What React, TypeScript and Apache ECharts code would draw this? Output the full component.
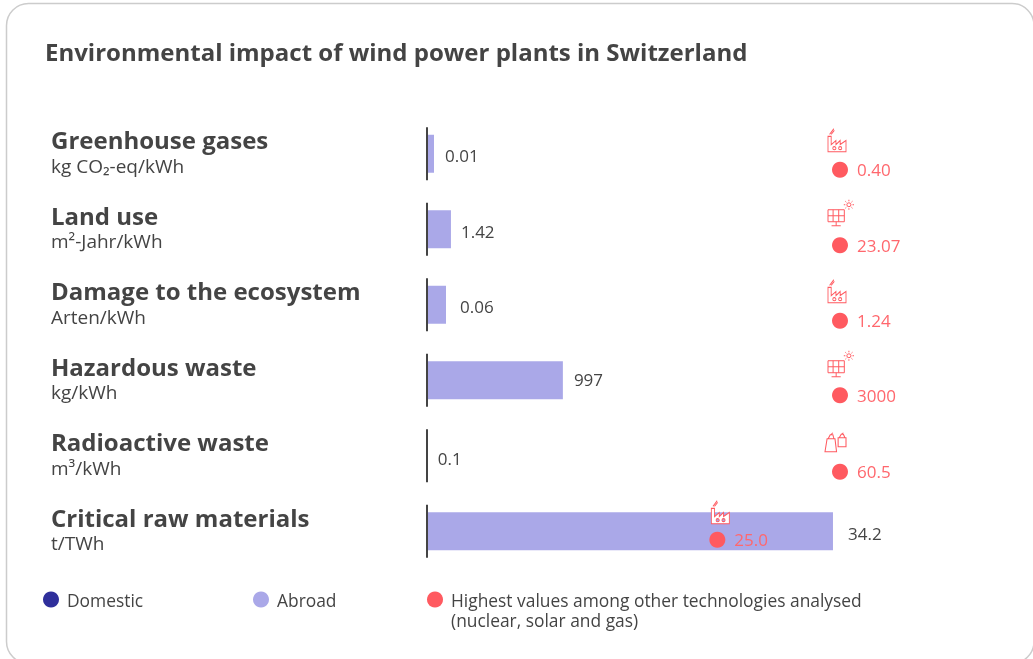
import React, { useEffect, useRef } from "react";
import * as echarts from "echarts";

const categories = ["Greenhouse gases", "Land use", "Damage to the ecosystem", "Hazardous waste", "Radioactive waste", "Critical raw materials"];
const units = ["kg CO₂-eq/kWh", "m²-Jahr/kWh", "Arten/kWh", "kg/kWh", "m³/kWh", "t/TWh"];
const abroadLabels = ["0.01", "1.42", "0.06", "997", "0.1", "34.2"];
const highestLabels = ["0.40", "23.07", "1.24", "3000", "60.5", "25.0"];
// lengths in % of the row's full scale
const abroadShare = [1.7, 5.8, 4.6, 32.9, 0.2, 98.3];
const highestShare = [100, 100, 100, 100, 100, 70.3];
const highestIcons = ["factory", "solar", "factory", "solar", "gas", "factory"];
const legendNames = ["Domestic", "Abroad", "Highest values among other technologies analysed"];

const TEXT = "#444444";
const RED = "#ff5a60";
const FONT = "'Open Sans', sans-serif";

const ICONS: Record<string, string> = {
  factory: "path://M0.5 23V8H3.5V16L8 12V16L12 12V16L17.5 12V23ZM2 6L6 0.5M3.5 6L6.5 2M5 19.5a1.5 1.5 0 1 0 3 0a1.5 1.5 0 1 0 -3 0M10.5 19.5a1.5 1.5 0 1 0 3 0a1.5 1.5 0 1 0 -3 0",
  solar: "path://M0.5 10H16.5V22H0.5ZM5.5 10V22M11 10V22M0.5 16H16.5M8.5 22V26M4 26H13M19 5a2 2 0 1 0 4 0a2 2 0 1 0 -4 0M21 0V1.5M21 8.5V10M16 5H17.5M24.5 5H26M17.5 1.5L18.5 2.5M24.5 1.5L23.5 2.5M17.5 8.5L18.5 7.5M24.5 8.5L23.5 7.5",
  gas: "path://M0.5 19L2.5 6H10L11.5 19ZM3.5 6L5.5 2H8L9 6M6 2L8 0M13 14V5H20.5V14ZM14 5L16 1.5H18L19.5 5M16 1.5L18 0",
};
const ICON_SIZE: Record<string, number[]> = { factory: [18, 23], solar: [26, 26], gas: [21, 19] };
const ICON_OFFSET: Record<string, number[]> = { factory: [-3, -13.5], solar: [1, -16.5], gas: [-4.5, -13.5] };

// small per-row shifts of the labels and dots
const labelGap = [11, 10, 14, 11, 10, 15];
const labelDy = [2, 2, 2, -1, 3, 2];
const dotDy = [16, 16, 16, 15, 16, 8.5];

export default function App() {
  const ref = useRef<HTMLDivElement>(null);
  useEffect(() => {
    document.body.style.margin = "0";
    const chart = echarts.init(ref.current!, null, { renderer: "svg" });
    chart.setOption({
      animation: false,
      textStyle: { fontFamily: FONT },
      title: {
        text: "Environmental impact of wind power plants in Switzerland",
        left: 45,
        top: 39,
        padding: 0,
        textStyle: { fontFamily: FONT, fontSize: 24, fontWeight: 700, color: TEXT },
      },
      grid: { left: 427, top: 116, width: 413, height: 453 },
      xAxis: { type: "value", min: 0, max: 100, show: false },
      yAxis: {
        type: "category",
        inverse: true,
        data: categories,
        axisLine: { show: false },
        axisTick: { show: false },
        axisLabel: {
          margin: 376,
          align: "left",
          padding: [0, 0, 4, 0],
          formatter: (v: string, i: number) => `{name|${v}}\n{unit|${units[i]}}`,
          rich: {
            name: { fontFamily: FONT, fontSize: 24, fontWeight: 700, color: TEXT, lineHeight: 28 },
            unit: { fontFamily: FONT, fontSize: 19, color: TEXT, lineHeight: 24 },
          },
        },
      },
      legend: [
        { data: [legendNames[0]], left: 43, top: 591 },
        { data: [legendNames[1]], left: 253, top: 591 },
        { data: [legendNames[2]], left: 427, top: 591 },
      ].map((l) => ({
        ...l,
        padding: 0,
        icon: "circle",
        itemWidth: 16,
        itemHeight: 16,
        itemGap: 0,
        textStyle: { fontFamily: FONT, fontSize: 17.4, color: TEXT, padding: [0, 0, 0, 3] },
        selectedMode: false,
      })),
      graphic: [
        {
          type: "rect",
          silent: true,
          z: -10,
          shape: { x: 6.5, y: 3.5, width: 1027.5, height: 660, r: 22 },
          style: { fill: "#fff", stroke: "#cccccc", lineWidth: 1.5 },
        },
        {
          type: "text",
          x: 451,
          y: 611,
          style: { text: "(nuclear, solar and gas)", font: `17.4px ${FONT}`, fill: TEXT },
        },
      ],
      series: [
        {
          name: legendNames[0],
          type: "bar",
          stack: "t",
          barWidth: 38,
          itemStyle: { color: "#2f2f9b" },
          data: [],
        },
        {
          name: legendNames[1],
          type: "bar",
          stack: "t",
          barWidth: 38,
          itemStyle: { color: "#aaa8e8" },
          label: {
            show: true,
            position: "right",
            fontFamily: FONT,
            fontSize: 17,
            color: TEXT,
            formatter: (p: any) => abroadLabels[p.dataIndex],
          },
          data: abroadShare.map((v, i) => ({
            value: v,
            label: { distance: labelGap[i], offset: [0, labelDy[i]] },
          })),
          z: 2,
        },
        {
          name: "axis",
          type: "scatter",
          symbol: "rect",
          symbolSize: [2, 53],
          itemStyle: { color: TEXT, opacity: 1 },
          data: categories.map((c) => [0, c]),
          z: 3,
        },
        {
          name: legendNames[2],
          type: "scatter",
          symbol: "circle",
          symbolSize: 16,
          clip: false,
          itemStyle: { color: RED, opacity: 1 },
          label: {
            show: true,
            position: "right",
            distance: 9,
            fontFamily: FONT,
            fontSize: 17,
            color: "#ff676d",
            formatter: (p: any) => highestLabels[p.dataIndex],
          },
          data: highestShare.map((v, i) => ({
            value: [v, categories[i]],
            symbolOffset: [0, dotDy[i]],
          })),
          z: 4,
        },
        {
          name: "icons",
          type: "scatter",
          silent: true,
          clip: false,
          itemStyle: { color: "#ffffff", borderColor: RED, borderWidth: 1, opacity: 1 },
          data: highestShare.map((v, i) => ({
            value: [v, categories[i]],
            symbol: ICONS[highestIcons[i]],
            symbolSize: ICON_SIZE[highestIcons[i]],
            symbolOffset: v < 100 ? [3, -19] : ICON_OFFSET[highestIcons[i]],
          })),
          z: 4,
        },
      ],
    });
    return () => chart.dispose();
  }, []);
  return <div ref={ref} style={{ position: "fixed", left: 0, top: 0, width: 1033, height: 659 }} />;
}
